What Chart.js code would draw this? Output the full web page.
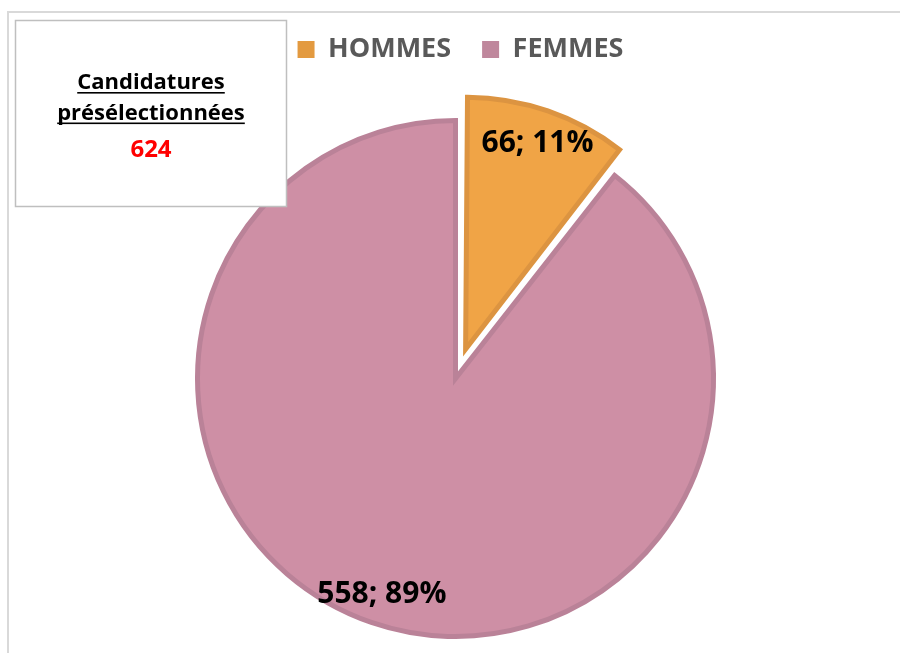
<!DOCTYPE html>
<html><head><meta charset="utf-8">
<script src="https://cdn.jsdelivr.net/npm/chart.js@4"></script>
<style>html,body{margin:0;padding:0;background:#fff}#wrap{position:relative;width:900px;height:653px}</style>
</head><body><div id="wrap"><canvas id="c" width="900" height="653"></canvas></div>
<script>
const categories = ['HOMMES', 'FEMMES'];
const counts = [66, 558];
const percentLabels = ['11%', '89%'];
const boxTitleLines = ['Candidatures', 'présélectionnées'];
const boxTotal = '624';

const fillColors = ['#F0A446', '#CE8FA5'];
const borderColors = ['#DC9441', '#BA8298'];
const legendColors = ['#E39A40', '#BF879C'];
const FONT = '"Open Sans", "DejaVu Sans", sans-serif';
const PIE_RADIUS = 258;
const SLICE_RADIUS = [252, 258];
const LEGEND_EXTRA = 31;
const LEGEND_SHIFT_X = 5;

const legendSpacer = {
  id: 'legendSpacer',
  beforeInit(chart) {
    const orig = chart.legend.fit;
    chart.legend.fit = function () { orig.call(this); this.height += LEGEND_EXTRA; };
  },
  afterLayout(chart) {
    chart.legend.left += LEGEND_SHIFT_X;
    chart.legend.right += LEGEND_SHIFT_X;
  }
};

// keep the exploded slice at its own radius (Chart.js grows it with the offset)
const keepRadius = {
  id: 'keepRadius',
  beforeDatasetsDraw(chart) {
    chart.getDatasetMeta(0).data.forEach((arc, i) => {
      const off = (arc.options.offset || 0) / 4;
      const fix = 1 - Math.sin(Math.min(Math.PI, arc.circumference || 0));
      arc.outerRadius = SLICE_RADIUS[i] - off * fix;
    });
  }
};

const framePlugin = {
  id: 'frame',
  beforeDraw(chart) {
    const ctx = chart.ctx;
    ctx.save();
    ctx.fillStyle = '#fff';
    ctx.fillRect(0, 0, chart.width, chart.height);
    ctx.strokeStyle = '#D9D9D9';
    ctx.lineWidth = 2;
    ctx.beginPath();
    ctx.moveTo(900, 12); ctx.lineTo(8, 12); ctx.lineTo(8, 653);
    ctx.stroke();
    ctx.restore();
  },
  afterDraw(chart) {
    const ctx = chart.ctx;
    ctx.save();
    ctx.fillStyle = '#fff';
    ctx.fillRect(15.5, 20.5, 271, 186);
    ctx.strokeStyle = '#BFBFBF';
    ctx.lineWidth = 1.5;
    ctx.strokeRect(15.5, 20.5, 271, 186);
    ctx.textAlign = 'center';
    ctx.textBaseline = 'alphabetic';
    ctx.font = 'bold 22px ' + FONT;
    ctx.fillStyle = '#000';
    const cx = 151;
    const baselines = [89, 119.5];
    boxTitleLines.forEach((t, i) => {
      ctx.fillText(t, cx, baselines[i]);
      const w = ctx.measureText(t).width;
      ctx.fillRect(cx - w / 2, baselines[i] + 3, w, 1.6);
    });
    ctx.font = 'bold 24px ' + FONT;
    ctx.fillStyle = '#FF0000';
    ctx.fillText(boxTotal, cx, 157);
    ctx.restore();
  }
};

const labelPlugin = {
  id: 'sliceLabels',
  afterDatasetsDraw(chart) {
    const meta = chart.getDatasetMeta(0);
    const ctx = chart.ctx;
    ctx.save();
    ctx.font = 'bold 30px ' + FONT;
    ctx.fillStyle = '#000';
    ctx.textAlign = 'center';
    ctx.textBaseline = 'middle';
    meta.data.forEach((arc, i) => {
      const p = arc.getProps(['x', 'y', 'startAngle', 'endAngle'], true);
      const mid = (p.startAngle + p.endAngle) / 2;
      const off = (arc.options.offset || 0) / 4;
      const r = off + SLICE_RADIUS[i] * 0.875;
      ctx.fillText(counts[i] + '; ' + percentLabels[i], p.x + Math.cos(mid) * r, p.y + Math.sin(mid) * r + 3);
    });
    ctx.restore();
  }
};

new Chart(document.getElementById('c'), {
  type: 'pie',
  data: {
    labels: categories,
    datasets: [{
      data: counts,
      backgroundColor: fillColors,
      borderColor: borderColors,
      borderWidth: 5,
      borderJoinStyle: 'miter',
      offset: [124, 0],
      clip: false
    }]
  },
  options: {
    responsive: false,
    animation: false,
    devicePixelRatio: 1,
    radius: PIE_RADIUS,
    layout: { padding: { left: 11, right: 0, top: 5, bottom: 0 } },
    plugins: {
      tooltip: { enabled: false },
      legend: {
        position: 'top',
        labels: {
          boxWidth: 17,
          boxHeight: 17,
          padding: 31,
          color: '#595959',
          font: { family: FONT, size: 27, weight: 'bold' },
          generateLabels(chart) {
            return categories.map((c, i) => ({
              text: c,
              fillStyle: legendColors[i],
              strokeStyle: legendColors[i],
              lineWidth: 0,
              fontColor: '#595959',
              hidden: false,
              index: i
            }));
          }
        }
      }
    }
  },
  plugins: [legendSpacer, keepRadius, framePlugin, labelPlugin]
});
</script>
</body></html>
